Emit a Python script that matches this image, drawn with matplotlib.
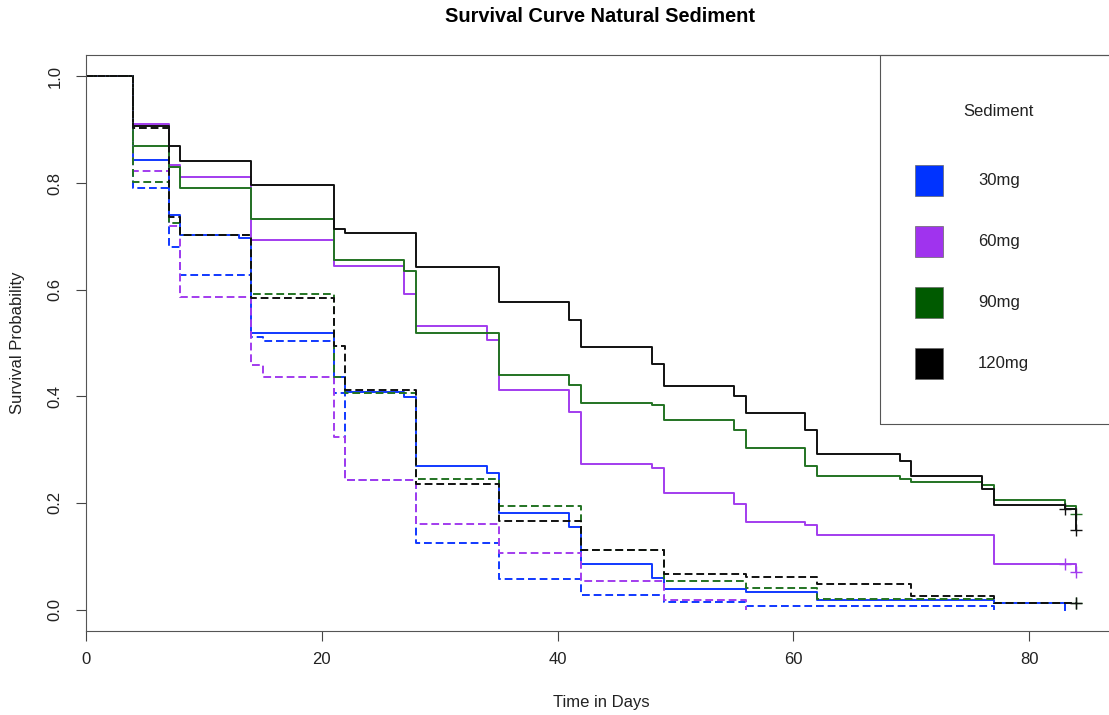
import matplotlib
matplotlib.use('Agg')
import matplotlib.pyplot as plt
from matplotlib.patches import Rectangle
import numpy as np

plt.rcParams['font.family'] = ['Liberation Sans', 'DejaVu Sans']

# Datos (tiempo en días, probabilidad de supervivencia)
# Curvas sólidas
t_30 = [0, 4, 7, 8, 13, 14, 21, 22, 27, 28, 34, 35, 41, 42, 48, 49, 56, 62, 77, 83]
s_30 = [1, 0.844, 0.741, 0.702, 0.697, 0.519, 0.437, 0.409, 0.398, 0.269, 0.256,
        0.181, 0.154, 0.086, 0.059, 0.039, 0.032, 0.018, 0.012, 0.0]
c_30 = []

t_60 = [0, 4, 7, 8, 14, 21, 27, 28, 34, 35, 41, 42, 48, 49, 55, 56, 61, 62, 77, 84]
s_60 = [1, 0.911, 0.833, 0.812, 0.694, 0.645, 0.592, 0.532, 0.506, 0.412, 0.371,
        0.273, 0.266, 0.219, 0.198, 0.165, 0.159, 0.139, 0.085, 0.071]
c_60 = [83, 84]

t_90 = [0, 4, 7, 8, 14, 21, 27, 28, 35, 41, 42, 48, 49, 55, 56, 61, 62, 69, 70,
        76, 77, 83, 84]
s_90 = [1, 0.869, 0.830, 0.791, 0.733, 0.655, 0.635, 0.518, 0.440, 0.421, 0.388,
        0.383, 0.356, 0.336, 0.303, 0.270, 0.251, 0.245, 0.239, 0.233, 0.206,
        0.194, 0.180]
c_90 = [84]

t_120 = [0, 4, 7, 8, 14, 21, 22, 28, 35, 41, 42, 48, 49, 55, 56, 61, 62, 69, 70,
         76, 77, 83, 84]
s_120 = [1, 0.907, 0.869, 0.842, 0.797, 0.713, 0.707, 0.642, 0.577, 0.544, 0.492,
         0.460, 0.420, 0.401, 0.368, 0.336, 0.291, 0.278, 0.251, 0.226, 0.196,
         0.189, 0.150]
c_120 = [83, 84]

# Curvas punteadas
td_30 = [0, 4, 7, 8, 14, 15, 21, 22, 28, 35, 42, 49, 56, 77]
sd_30 = [1, 0.791, 0.680, 0.628, 0.511, 0.503, 0.406, 0.243, 0.124, 0.058, 0.028,
         0.014, 0.006, 0.0]
cd_30 = []

td_60 = [0, 4, 7, 8, 14, 15, 21, 22, 28, 35, 42, 49, 56]
sd_60 = [1, 0.822, 0.720, 0.587, 0.458, 0.437, 0.323, 0.243, 0.161, 0.106, 0.053,
         0.018, 0.0]
cd_60 = []

td_90 = [0, 4, 7, 8, 14, 21, 22, 28, 35, 42, 49, 56, 62, 77, 84]
sd_90 = [1, 0.802, 0.726, 0.702, 0.591, 0.436, 0.406, 0.245, 0.195, 0.111, 0.054,
         0.041, 0.019, 0.013, 0.013]
cd_90 = [84]

td_120 = [0, 4, 7, 8, 14, 21, 22, 28, 35, 42, 49, 56, 62, 70, 77, 84]
sd_120 = [1, 0.903, 0.736, 0.702, 0.585, 0.495, 0.412, 0.236, 0.166, 0.111, 0.067,
          0.061, 0.047, 0.026, 0.013, 0.013]
cd_120 = [84]

grupos = ['30mg', '60mg', '90mg', '120mg']
col_lineas = ['#1038ff', '#a23cee', '#237323', '#111111']
col_leyenda = ['#0033ff', '#a033ee', '#005a00', '#000000']

x_ticks = [0, 20, 40, 60, 80]
y_ticks = [0.0, 0.2, 0.4, 0.6, 0.8, 1.0]


def valor_en(t, s, x):
    """ Valor de la curva escalonada en el tiempo x """
    i = np.searchsorted(t, x, side='right') - 1
    return s[i]


W, H = 1109, 715
fig = plt.figure(figsize=(W / 100, H / 100), dpi=100)
ax = fig.add_axes([86 / W, (H - 631) / H, (1116 - 86) / W, (631 - 55) / H])

solidas = [(t_30, s_30, c_30), (t_60, s_60, c_60), (t_90, s_90, c_90),
           (t_120, s_120, c_120)]
punteadas = [(td_30, sd_30, cd_30), (td_60, sd_60, cd_60), (td_90, sd_90, cd_90),
             (td_120, sd_120, cd_120)]

for estilo, curvas in [('-', solidas), ((0, (4, 2)), punteadas)]:
    for (t, s, cens), col in zip(curvas, col_lineas):
        ax.step(t, s, where='post', color=col, lw=1.4, linestyle=estilo)
        if cens:
            ax.plot(cens, [valor_en(t, s, c) for c in cens], ls='none',
                    marker='+', ms=8, mew=1.0, color=col)

ax.set_xlim(0, (1116 - 86) / 11.79)
ax.set_ylim(-0.0403, 1.0403)
ax.set_xticks(x_ticks)
ax.set_xticklabels([str(x) for x in x_ticks])
ax.set_yticks(y_ticks)
ax.set_yticklabels(['%.1f' % y for y in y_ticks], rotation=90, va='center')
ax.tick_params(direction='out', length=7, width=0.8, color='#444444',
               labelsize=12, labelcolor='#222222')
ax.tick_params(axis='x', pad=8)
ax.tick_params(axis='y', pad=10)
for lado in ['left', 'top', 'bottom']:
    ax.spines[lado].set_color('#555555')
    ax.spines[lado].set_linewidth(0.8)
ax.spines['right'].set_visible(False)

ax.set_xlabel('Time in Days', fontsize=12, labelpad=20, color='#222222')
ax.set_ylabel('Survival Probability', fontsize=12, labelpad=16, color='#222222')
fig.text(600 / W, 1 - 16 / H, 'Survival Curve Natural Sediment', fontsize=14.4,
         fontweight='bold', ha='center', va='center')

# Leyenda dibujada a mano (estilo R)
fig.add_artist(Rectangle((880 / W, 1 - 424 / H), (1116 - 880) / W, (424 - 55) / H,
                         transform=fig.transFigure, fill=False,
                         ec='#555555', lw=0.8))
fig.text(998 / W, 1 - 112 / H, 'Sediment', fontsize=12, ha='center', va='center',
         color='#222222')
for i, (g, col) in enumerate(zip(grupos, col_leyenda)):
    yc = 180 + i * 61.3
    fig.add_artist(Rectangle((915 / W, 1 - (yc + 15.5) / H), 28 / W, 31 / H,
                             transform=fig.transFigure, fc=col,
                             ec='#666666', lw=0.5))
    fig.text(978 / W, 1 - yc / H, g, fontsize=12, ha='left', va='center',
             color='#222222')

fig.savefig('out.png', dpi=100)
